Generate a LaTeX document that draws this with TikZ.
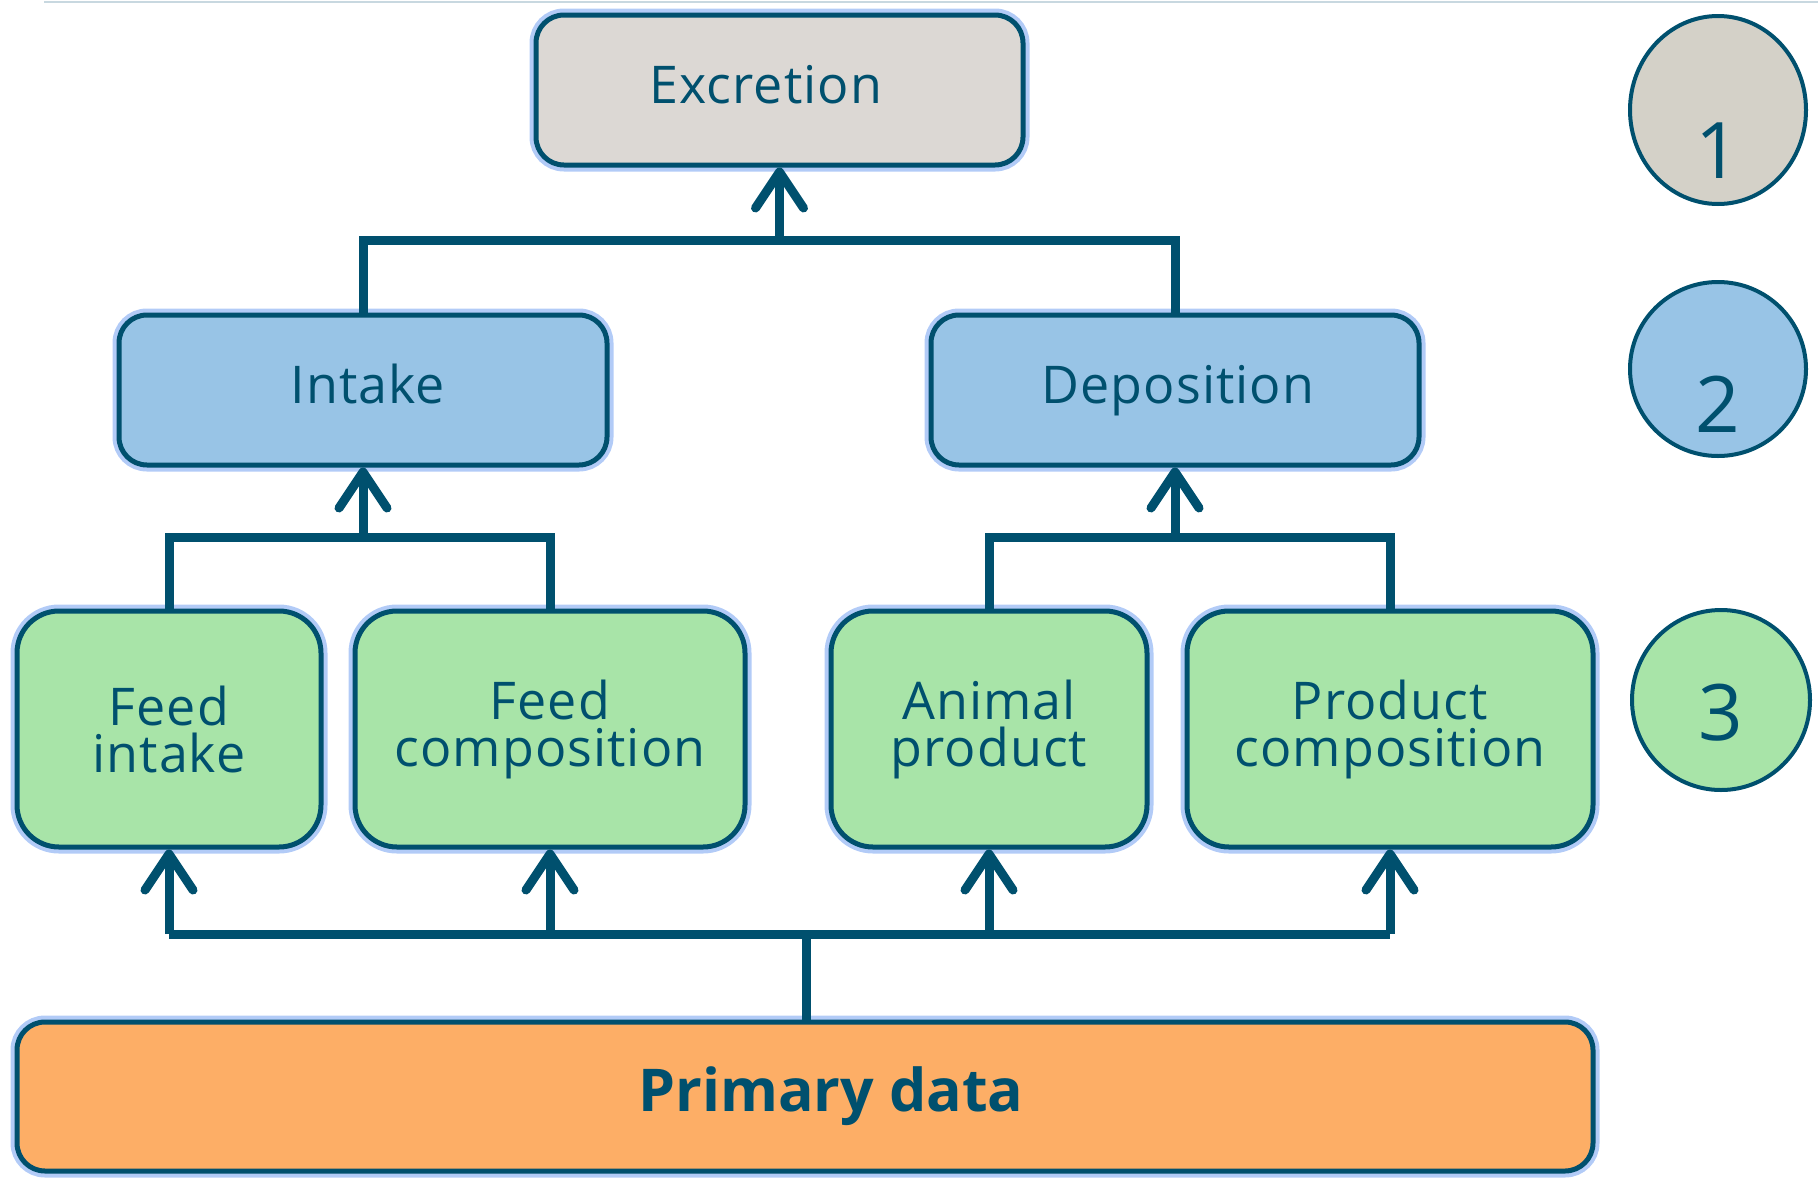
\documentclass[tikz,border=0pt]{standalone}
\usepackage{fontspec}
\setmainfont{Open Sans}[LetterSpace=2]
\newfontfamily\boldfam{Open Sans}[Scale=1]
\usetikzlibrary{arrows.meta,positioning,shapes.geometric}
\definecolor{ink}{HTML}{00506E}
\definecolor{greyfill}{HTML}{DCD8D4}
\definecolor{circgrey}{HTML}{D4D1C8}
\definecolor{bluefill}{HTML}{98C4E6}
\definecolor{greenfill}{HTML}{A8E4A8}
\definecolor{orangefill}{HTML}{FDAE66}
\definecolor{glowc}{HTML}{7FA8F2}
\definecolor{topline}{HTML}{C8D8E0}
\tikzset{
  box/.style={rectangle, draw=ink, line width=5pt, rounded corners=28pt, text=ink,
    align=center, font=\fontsize{52}{47}\selectfont,
    preaction={draw=glowc, line width=13pt, opacity=0.6}},
  boxtext/.style={text=ink, font=\fontsize{52}{47}\selectfont, anchor=base},
  greenbox/.style={box, fill=greenfill, rounded corners=42pt, minimum height=236pt},
  numc/.style={ellipse, draw=ink, line width=4pt, text=ink, inner sep=0pt},
  numt/.style={text=ink, font=\fontsize{78}{78}\selectfont, anchor=base},
  conn/.style={draw=ink, line width=9pt},
  arr/.style={conn, -{Straight Barb[length=36pt,width=48pt,line width=9pt,line cap=round,round]}},
}
\begin{document}
\begin{tikzpicture}[x=1pt,y=-1pt]
\useasboundingbox (0,0) rectangle (1818,1181);
\draw[topline, line width=2pt] (44,2) -- (1818,2);
% boxes
\node[box, fill=greyfill, minimum width=487pt, minimum height=150pt] (excr) at (779.5,90) {};
\node[boxtext] (excrt) at (766,103) {Excretion};
\node[box, fill=bluefill, minimum width=488pt, minimum height=150pt] (intake) at (363,390) {};
\node[boxtext] (intaket) at (368,403) {Intake};
\node[box, fill=bluefill, minimum width=488pt, minimum height=150pt] (depo) at (1175,390) {};
\node[boxtext] (depot) at (1178,403) {Deposition};
\node[greenbox, minimum width=304pt] (fi) at (169,729) {Feed\\intake};
\node[greenbox, minimum width=390pt] (fc) at (550,729) {Feed\\composition};
\node[greenbox, minimum width=316pt] (ap) at (989,729) {Animal\\product};
\node[greenbox, minimum width=406pt] (pc) at (1390,729) {Product\\composition};
\node[box, fill=orangefill, minimum width=1576pt, minimum height=149pt] (prim) at (805,1096.5) {};
\node[text=ink, font=\fontsize{59}{59}\boldfam\bfseries, anchor=base] (primt) at (831,1111) {Primary data};
% circles
\node[numc, fill=circgrey, minimum width=176pt, minimum height=188pt] (c1) at (1718,110) {};
\node[numt] (n1) at (1718,178) {1};
\node[numc, fill=bluefill, minimum width=176pt, minimum height=174pt] (c2) at (1718,369) {};
\node[numt] (n2) at (1718,432) {2};
\node[numc, fill=greenfill, minimum width=178pt, minimum height=180pt] (c3) at (1721,700) {};
\node[numt] (n3) at (1721,740) {3};
% connectors top
\coordinate (j1) at (779.5,240);
\draw[conn] (intake.north) |- (j1) -| (depo.north);
\draw[arr] (j1) -- (excr.south);
\coordinate (j2) at (363,537);
\coordinate (j3) at (1175,537);
\draw[conn] (fi.north) |- (j2) -| (fc.north);
\draw[arr] (j2) -- (intake.south);
\draw[conn] (ap.north) |- (j3) -| (pc.north);
\draw[arr] (j3) -- (depo.south);
% bottom connectors
\coordinate (jb) at (806,934);
\draw[conn] (prim.north -| jb) -- (jb);
\draw[conn] (fi.south |- jb) -- (pc.south |- jb);
\draw[arr] (fi.south |- jb) -- (fi.south);
\draw[arr] (fc.south |- jb) -- (fc.south);
\draw[arr] (ap.south |- jb) -- (ap.south);
\draw[arr] (pc.south |- jb) -- (pc.south);
\end{tikzpicture}
\end{document}
